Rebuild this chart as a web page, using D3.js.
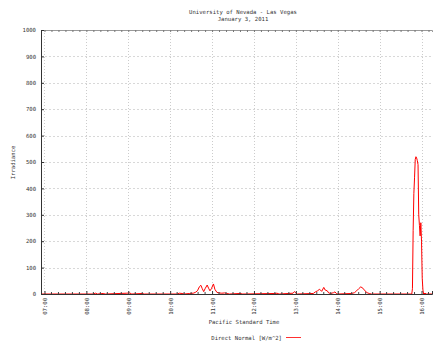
<!DOCTYPE html>
<html><head><meta charset="utf-8">
<script src="https://cdn.jsdelivr.net/npm/d3@7"></script>
<style>
html,body{margin:0;padding:0;background:#fff;}
svg{display:block;}
text{font-family:"DejaVu Sans Mono","Liberation Mono",monospace;font-size:5.6px;fill:#333;}
</style></head>
<body>
<script>
// ---- data ----
const titleLines = ["University of Nevada - Las Vegas", "January 3, 2011"];
const xTitle = "Pacific Standard Time";
const yTitle = "Irradiance";
const seriesName = "Direct Normal [W/m^2]";
const xTickLabels = ["07:00","08:00","09:00","10:00","11:00","12:00","13:00","14:00","15:00","16:00"];
const yTicks = [0,100,200,300,400,500,600,700,800,900,1000];
const times = ["06:55","08:10","08:13","08:16","08:24","08:27","08:58","09:02","09:05","09:20","09:23",
  "10:10","10:13","10:17","10:20","10:28","10:33","10:36","10:39","10:42","10:44","10:46","10:48","10:50",
  "10:53","10:55","10:57","10:59","11:02","11:04","11:07","11:10","11:14","11:18","11:21","11:25","11:40","11:44",
  "12:30","12:33","12:36","12:56","12:58","13:00","13:02","13:25","13:28","13:31","13:34","13:37","13:40","13:42",
  "13:45","13:47","13:50","13:54","13:56","13:58","14:00","14:20","14:24","14:27","14:30","14:33","14:36","14:39",
  "14:42","14:45","14:48","15:46","15:47","15:48","15:49","15:50","15:51","15:52","15:53","15:54","15:55","15:56",
  "15:57","15:58","15:59","16:00","16:01","16:02","16:03","16:05","16:07","16:15"];
const values = [0,0,3,0,2,0,3,4,0,2,0,
  0,3,2,0,2,3,6,12,28,33,20,9,20,
  34,22,12,20,38,18,6,4,3,4,2,0,2,0,
  2,3,0,3,9,4,0,2,8,12,18,10,25,15,
  12,4,2,5,8,2,0,2,5,12,20,27,22,12,
  5,2,0,0,20,240,380,440,510,520,515,505,490,300,
  260,220,270,200,60,15,0,3,0,0];
const xDomain = ["06:55","16:15"];

// ---- helpers ----
const toMin = s => { const [h,m] = s.split(":").map(Number); return h*60+m; };
const W = 433, H = 343;
const svg = d3.select("body").append("svg").attr("width", W).attr("height", H);

const x = d3.scaleLinear().domain(xDomain.map(toMin)).range([41, 432]);
const y = d3.scaleLinear().domain([0, 1000]).range([294, 30]);

const majorX = xTickLabels.map(toMin);
const minorX = d3.range(toMin("06:00"), toMin("17:00"), 10).filter(v => v >= x.domain()[0] && v <= x.domain()[1] && v % 60 !== 0);

// grid
svg.append("g").selectAll("line").data(yTicks.slice(1, -1)).join("line")
  .attr("x1", 41).attr("x2", 432).attr("y1", d => Math.round(y(d)) + 0.5).attr("y2", d => Math.round(y(d)) + 0.5)
  .attr("stroke", "#d8d8d8").attr("stroke-width", 1).attr("stroke-dasharray", "2,2")
  .attr("shape-rendering", "crispEdges");
svg.append("g").selectAll("line").data(majorX).join("line")
  .attr("x1", d => Math.round(x(d)) + 0.5).attr("x2", d => Math.round(x(d)) + 0.5).attr("y1", 30).attr("y2", 294)
  .attr("stroke", "#cccccc").attr("stroke-width", 1).attr("stroke-dasharray", "1,2")
  .attr("shape-rendering", "crispEdges");

// data line (drawn beneath the axes so zero values sit under the axis line)
const line = d3.line().x((d, i) => x(toMin(times[i]))).y(d => y(d));
svg.append("path").datum(values).attr("d", line)
  .attr("fill", "none").attr("stroke", "#ff0000").attr("stroke-width", 1);

// top border with ticks
const topAxis = svg.append("g").attr("transform", "translate(0,30)")
  .call(d3.axisTop(x).tickValues(majorX.concat(minorX)).tickSize(-2).tickFormat(""));
topAxis.select(".domain").attr("stroke", "#999");
topAxis.selectAll(".tick line").attr("stroke", "#777");

// left axis
const leftAxis = svg.append("g").attr("transform", "translate(41,0)")
  .call(d3.axisLeft(y).tickValues(yTicks).tickSize(-3).tickPadding(5).tickFormat(d3.format("d")));
leftAxis.select(".domain").attr("stroke", "#333");
leftAxis.selectAll(".tick line").attr("stroke", "#333");
leftAxis.selectAll("text").attr("font-size", "5.6px").attr("fill", "#444");

// bottom axis
const bottomAxis = svg.append("g").attr("transform", "translate(0,294)")
  .call(d3.axisBottom(x).tickValues(majorX).tickSize(-3).tickFormat((d, i) => xTickLabels[i]));
bottomAxis.select(".domain").attr("stroke", "#333");
bottomAxis.selectAll(".tick line").attr("stroke", "#333");
bottomAxis.selectAll("text").attr("font-size", "5.6px").attr("fill", "#444")
  .attr("transform", "rotate(-90)").attr("text-anchor", "end").attr("x", -4).attr("y", 0).attr("dy", "0.35em");
svg.append("g").selectAll("line").data(minorX).join("line")
  .attr("x1", d => x(d)).attr("x2", d => x(d)).attr("y1", 294).attr("y2", 292)
  .attr("stroke", "#444").attr("stroke-width", 1);

// titles
svg.append("text").attr("x", 243).attr("y", 13.5).attr("text-anchor", "middle").text(titleLines[0]);
svg.append("text").attr("x", 243).attr("y", 21).attr("text-anchor", "middle").text(titleLines[1]);
svg.append("text").attr("x", 244).attr("y", 324).attr("text-anchor", "middle").text(xTitle);
svg.append("text").attr("transform", "translate(15,162.5) rotate(-90)").attr("text-anchor", "middle").text(yTitle);

// legend
svg.append("text").attr("x", 282).attr("y", 339.5).attr("text-anchor", "end").text(seriesName);
svg.append("rect").attr("x", 286).attr("y", 337).attr("width", 15).attr("height", 1)
  .attr("fill", "#ff3030");
</script>
</body></html>
